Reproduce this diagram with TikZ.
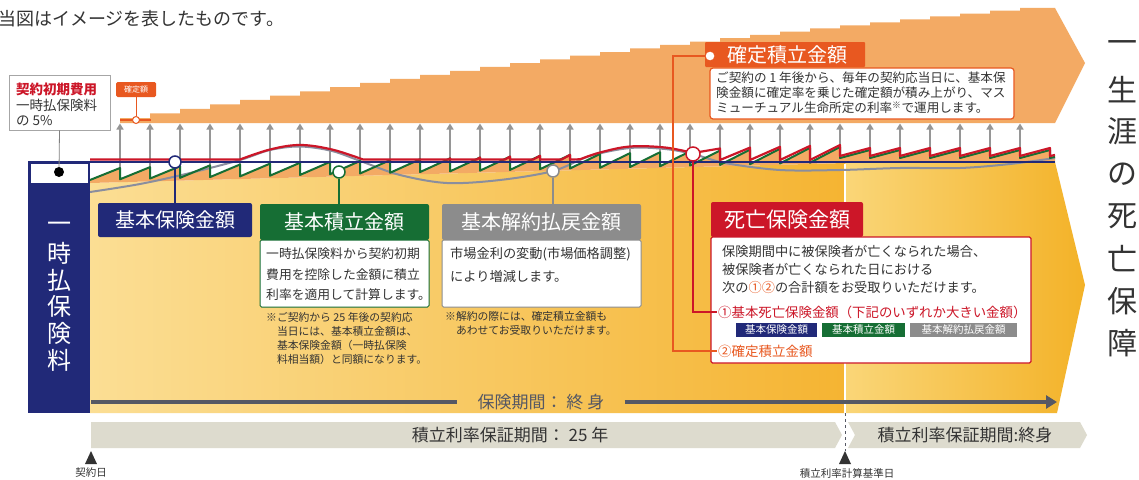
\documentclass[tikz,border=0pt]{standalone}
\usepackage{fontspec}
\setmainfont{Noto Sans CJK JP}
\usetikzlibrary{arrows.meta}
\newcommand{\myfs}[2]{\fontsize{#1}{#2}\selectfont}
\definecolor{navy}{RGB}{33,41,120}
\definecolor{grn}{RGB}{22,110,52}
\definecolor{gry}{RGB}{140,140,140}
\definecolor{crv}{RGB}{138,142,158}
\definecolor{redc}{RGB}{204,22,40}
\definecolor{orng}{RGB}{232,88,32}
\definecolor{lorng}{RGB}{243,170,100}
\definecolor{bandc}{RGB}{221,219,206}
\definecolor{txt}{RGB}{51,51,51}
\definecolor{darkg}{RGB}{85,88,100}
\definecolor{arrg}{RGB}{150,150,150}
\definecolor{ylA}{RGB}{251,222,148}
\definecolor{ylB}{RGB}{245,180,50}
\definecolor{ylC}{RGB}{250,214,120}
\definecolor{ylD}{RGB}{243,178,40}
\begin{document}
\begin{tikzpicture}[x=1pt,y=-1pt,
  hdrbox/.style={rounded corners=2pt, inner sep=0pt, text=white, font=\myfs{20}{24}},
  bodybox/.style={fill=white, line width=1pt, rounded corners=1.5pt, inner sep=0pt},
  ringdot/.style={circle, fill=white, line width=1.5pt, minimum size=12pt, inner sep=0pt},
  tagbox/.style={inner sep=0pt, text=white, font=\myfs{10.5}{12}, minimum height=14pt},
  plaintext/.style={inner sep=0pt, text=txt, align=left},
]
\fill[white] (0,0) rectangle (1139,479);
\useasboundingbox (0,0) rectangle (1139,479);

% title
\node[plaintext, anchor=west, font=\myfs{18}{21}] (title) at (-2,19) {当図はイメージを表したものです。};

% top orange arrow (staircase)
\fill[lorng] (120,123) -- (120,118) \foreach \k in {2,...,31}{ -| ({90+30*\k},{118-4.639*(\k-1)+0.0324*(\k-1)*(\k-1)}) } -| (1055,8) -- (1085,63) -- (1055,123) -- cycle;

% big yellow arrow
\shade[left color=ylA, right color=ylB] (90,183) -- (845,163) -- (845,413) -- (90,413) -- cycle;
\shade[left color=ylC, right color=ylD] (845,163) -- (1055,162) -- (1085,285) -- (1057,413) -- (845,413) -- cycle;
\draw[white, line width=1.2pt] (845,164) -- (845,413);

% orange band under the green sawtooth
\fill[lorng] (90,180) \foreach \k in {0,...,23}{ -- ({120+30*\k},{168-0.875*\k}) -- ({120+30*\k},{180-0.72*(\k+1)}) } -- (840,147) -- (840,158) \foreach \k in {25,...,31}{ -- ({120+30*\k},150) -- ({120+30*\k},158) } -- (1055,156.7) -- (1055,162) -- (845,163) -- (90,183) -- cycle;

% yearly gray arrows
\foreach \k in {1,...,31}{
  \pgfmathsetmacro{\ys}{\k<26 ? 168-0.875*(\k-1) : 150}
  \draw[arrg, line width=1.5pt, -{Triangle[width=7pt,length=6pt]}] ({90+30*\k},\ys) -- ({90+30*\k},123.5);
}

% gray curve (surrender value)
\draw[crv, line width=2pt] plot[smooth, tension=0.55] coordinates {(90,192) (140,184) (190,173) (240,160) (270,150) (300,146.5) (332,151) (363,162) (400,175) (447,183) (500,180) (553,171) (590,156) (630,148) (665,149) (693,154) (725,163) (780,170) (840,170) (900,168) (960,168) (1010,164) (1055,158)};

% green sawtooth
\draw[grn, line width=2pt, line join=round] (90,180) \foreach \k in {0,...,23}{ -- ({120+30*\k},{168-0.875*\k}) -- ({120+30*\k},{180-0.72*(\k+1)}) } -- (840,147) -- (840,158) \foreach \k in {25,...,31}{ -- ({120+30*\k},150) -- ({120+30*\k},158) } -- (1055,156.7);

% red line (death benefit)
\draw[redc, line width=2.2pt, line join=round] (90,159.5) -- (240,159.5) -- plot[smooth, tension=0.6] coordinates {(240,159.5) (270,149.5) (300,145) (332,149.5) (363,159.5)} -- (448.7,159.5) -- (450,158.4) -- (450,159.5) -- (476.8,159.5) -- (480,157.5) -- (480,159.5) -- (504.9,159.5) -- (510,156.6) -- (510,159.5) -- (533.1,159.5) -- (540,155.8) -- (540,159.5) -- (561.6,159.5) -- (570,154.9) -- (570,159.5) -- (580,159.3) -- plot[smooth, tension=0.6] coordinates {(580,159.3) (600,152.5) (630,146.5) (665,147.5) (693,153)} -- (720,148.5) -- (720,160) -- (750,147.6) -- (750,160) -- (780,146.8) -- (780,160) -- (810,145.9) -- (810,160) -- (840,145) -- (840,156) \foreach \k in {25,...,31}{ -- ({120+30*\k},148) -- ({120+30*\k},156) } -- (1055,155);

% premium column
\fill[navy] (28,161) rectangle (90,413);
\fill[white] (30.5,163.5) rectangle (87.5,182.5);
\draw[navy, line width=2pt] (88,162) -- (1055,162);
\foreach \c [count=\i] in {一,時,払,保,険,料}
  \node[inner sep=0pt, text=white, font=\myfs{24}{26}] (col\i) at (59,{227+26.6*(\i-1)}) {\c};

% initial cost box
\node[draw=gray!70, fill=white, line width=0.8pt, minimum width=101pt, minimum height=55pt, inner sep=0pt] (initbox) at (59.5,102.5) {};
\node[plaintext, anchor=north west, font=\myfs{13.5}{15.5}] (inittxt) at (16,83) {\textcolor{redc}{\bfseries 契約初期費用}\\一時払保険料\\の 5\%};
\node[circle, fill=black, inner sep=0pt, minimum size=10pt] (dot) at (59,172) {};
\draw[gray, line width=0.8pt] (initbox.south) -- (dot);

% fixed amount marker
\draw[orng, line width=2.5pt] (120,120) -- (151,120);
\node[circle, fill=white, draw=orng, line width=1pt, minimum size=7pt, inner sep=0pt] (kc) at (136,120) {};
\node[rounded corners=1.5pt, fill=orng, text=white, font=\myfs{8}{9}, minimum width=40pt, minimum height=15pt, inner sep=0pt] (kteigaku) at (136,89.5) {確定額};
\draw[orng, line width=1pt] (kteigaku.south) -- (kc.north);

% circles on curves
\node[ringdot, draw=navy] (cb) at (175,162) {};
\node[ringdot, draw=grn] (cg) at (339,172) {};
\node[ringdot, draw=gry] (cy) at (553,171) {};
\node[ringdot, draw=redc, minimum size=14pt] (cr) at (693,154) {};

% label boxes
\node[hdrbox, fill=navy, minimum width=154pt, minimum height=34pt] (bluebox) at (175,220) {基本保険金額};
\draw[navy, line width=1.5pt] (cb.south) -- (cb.south |- bluebox.north);

\node[hdrbox, fill=grn, minimum width=169pt, minimum height=36pt] (grnhead) at (344.5,222) {基本積立金額};
\node[bodybox, draw=grn, minimum width=169pt, minimum height=67pt] (grnbody) at (344.5,273.5) {};
\node[plaintext, anchor=north west, font=\myfs{12.8}{20.5}] (grntxt) at (266,247.6) {一時払保険料から契約初期\\費用を控除した金額に積立\\利率を適用して計算します。};
\draw[grn, line width=1.5pt] (cg.south) -- (cg.south |- grnhead.north);
\node[plaintext, anchor=north west, font=\myfs{10.8}{13.7}] (grnnote) at (266,312.6) {※ご契約から 25 年後の契約応\\\hphantom{※}当日には、基本積立金額は、\\\hphantom{※}基本保険金額（一時払保険\\\hphantom{※}料相当額）と同額になります。};

\node[hdrbox, fill=gry, minimum width=199pt, minimum height=36pt] (gryhead) at (541.5,222) {基本解約払戻金額};
\node[bodybox, draw=gry, minimum width=199pt, minimum height=67pt] (grybody) at (541.5,273.5) {};
\node[plaintext, anchor=north west, font=\myfs{13.2}{23}] (grytxt) at (450,247.4) {市場金利の変動(市場価格調整)\\により増減します。};
\draw[gry, line width=1.5pt] (cy.south) -- (cy.south |- gryhead.north);
\node[plaintext, anchor=north west, font=\myfs{10.8}{13.7}] (grynote) at (445,311.6) {※解約の際には、確定積立金額も\\\hphantom{※}あわせてお受取りいただけます。};

% fixed accumulation label
\node[hdrbox, fill=orng, rounded corners=1pt, minimum width=160pt, minimum height=25pt] (kakuhead) at (785,54.5) {\hspace*{4pt}確定積立金額};
\node[circle, fill=white, draw=orng, line width=1pt, minimum size=10pt, inner sep=0pt] (co) at (710,56) {};
\node[bodybox, draw=orng, line width=1.2pt, rounded corners=3pt, minimum width=304pt, minimum height=51pt] (kakudesc) at (862,93.5) {};
\node[plaintext, anchor=north west, font=\myfs{12.6}{15}] (kakutxt) at (716,71.7) {ご契約の 1 年後から、毎年の契約応当日に、基本保\\険金額に確定率を乗じた確定額が積み上がり、マス\\ミューチュアル生命所定の利率\textsuperscript{※}で運用します。};

% death benefit box
\node[hdrbox, fill=redc, font=\myfs{21}{24}, minimum width=152pt, minimum height=35pt] (deathhead) at (787,219.5) {死亡保険金額};
\node[bodybox, draw=redc, line width=1.2pt, minimum width=320pt, minimum height=126pt] (deathbody) at (871,300) {};
\node[plaintext, anchor=north west, font=\myfs{13.2}{18}] (deathtxt) at (722,245.4) {保険期間中に被保険者が亡くなられた場合、\\被保険者が亡くなられた日における\\次の\textcolor{orng}{①②}の合計額をお受取りいただけます。};
\node[inner sep=1pt, anchor=west, text=redc, font=\myfs{13.4}{16}] (item1) at (717,312) {①基本死亡保険金額（下記のいずれか大きい金額）};
\node[tagbox, fill=navy, minimum width=81pt] (tag1) at (776.5,330) {基本保険金額};
\node[tagbox, fill=grn, minimum width=83pt] (tag2) at (863.5,330) {基本積立金額};
\node[tagbox, fill=gry, minimum width=107pt] (tag3) at (963.5,330) {基本解約払戻金額};
\node[inner sep=1pt, anchor=west, text=orng, font=\myfs{13.5}{16}] (item2) at (717,351) {②確定積立金額};

\coordinate (ocorner) at (673,56);
\draw[redc, line width=1.8pt] (cr.south) |- (item1.west);
\draw[orng, line width=1.5pt] (co.west) -- (ocorner) |- (item2.west);

% right vertical text
\foreach \c [count=\i] in {一,生,涯,の,死,亡,保,障}
  \node[inner sep=0pt, text=txt, font=\myfs{30}{32}] (life\i) at (1122,{47+42.3*(\i-1)}) {\c};

% period arrow
\coordinate (pstart) at (91,402);
\coordinate (pend) at (1057,402);
\node[inner xsep=20pt, inner ysep=0pt, text=darkg, font=\myfs{17}{20}] (period) at (541,402) {保険期間： 終 身};
\draw[darkg, line width=3.5pt] (pstart) -- (period.west);
\draw[darkg, line width=3.5pt, -{Triangle[width=13pt,length=11pt]}] (period.east) -- (pend);

% guarantee bands
\fill[bandc] (91,422) -- (835,422) -- (842,435) -- (835,448) -- (91,448) -- cycle;
\fill[bandc] (848,422) -- (1080,422) -- (1087,435) -- (1080,448) -- (848,448) -- (855,435) -- cycle;
\node[inner sep=0pt, text=txt, font=\myfs{17}{20}] (g25) at (510,435) {積立利率保証期間： 25 年};
\node[inner sep=0pt, text=txt, font=\myfs{17}{20}] (glife) at (965,435) {積立利率保証期間:終身};
\draw[darkg, dashed, line width=0.8pt] (845,413) -- (845,451);

% date markers
\fill[txt] (85,464) -- (91,451) -- (97,464) -- cycle;
\fill[txt] (839,464) -- (845,451) -- (851,464) -- cycle;
\node[inner sep=0pt, text=txt, font=\myfs{10.5}{12}] (keiyaku) at (91,473) {契約日};
\node[inner sep=0pt, text=txt, font=\myfs{10.5}{12}] (kijun) at (847,473) {積立利率計算基準日};
\end{tikzpicture}
\end{document}
